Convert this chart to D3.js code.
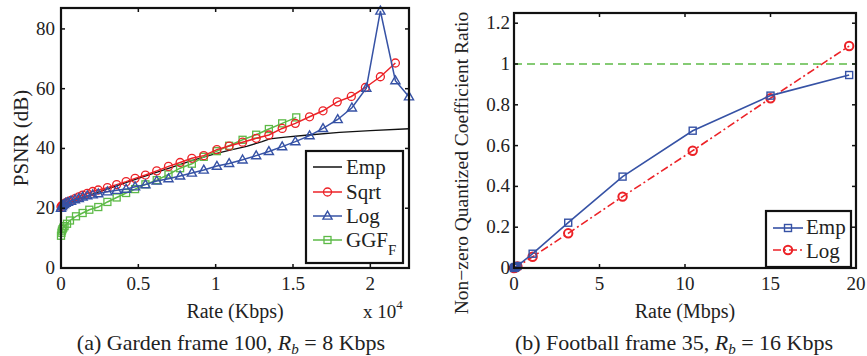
<!DOCTYPE html>
<html>
<head>
<meta charset="utf-8">
<script src="https://cdn.jsdelivr.net/npm/d3@7"></script>
<style>
  body { margin: 0; background: #fff; }
</style>
</head>
<body>
<div id="grafica"></div>
<script>
// ---- panel (a): PSNR vs rate (x 10^4 Kbps) ----
var rateA = [0, 0.005, 0.01, 0.02, 0.03, 0.045, 0.065, 0.09, 0.115, 0.14, 0.17, 0.205, 0.241, 0.300, 0.360, 0.421, 0.479, 0.546, 0.619, 0.695, 0.770, 0.846, 0.923, 1.008, 1.087, 1.174, 1.262, 1.344, 1.430, 1.515, 1.607, 1.694, 1.786, 1.877, 1.968, 2.065, 2.162];
var sqrtA = [20.5, 20.8, 21.0, 21.4, 21.8, 22.2, 22.6, 23.2, 23.8, 24.4, 25.0, 25.6, 26.1, 26.9, 27.9, 28.9, 30.0, 31.1, 32.5, 34.0, 35.3, 36.7, 37.6, 39.6, 40.8, 42.1, 43.4, 44.5, 46.7, 48.4, 50.6, 52.6, 55.6, 57.4, 60.4, 64.0, 68.6];

var rateLog = [0, 0.005, 0.01, 0.02, 0.03, 0.045, 0.065, 0.09, 0.115, 0.14, 0.17, 0.205, 0.241, 0.300, 0.360, 0.421, 0.479, 0.546, 0.619, 0.695, 0.770, 0.846, 0.923, 1.008, 1.087, 1.174, 1.262, 1.344, 1.430, 1.515, 1.607, 1.694, 1.789, 1.881, 1.974, 2.065, 2.162, 2.25];
var logA = [20.0, 20.5, 20.9, 21.3, 21.7, 22.0, 22.4, 22.9, 23.3, 23.8, 24.2, 24.5, 24.9, 25.5, 26.0, 26.4, 27.2, 27.9, 29.1, 29.9, 30.8, 31.8, 32.8, 34.1, 35.0, 36.2, 37.6, 39.0, 40.6, 42.3, 44.3, 46.7, 49.7, 53.6, 60.2, 86.0, 62.7, 57.3];

var rateGGF = [0, 0.003, 0.006, 0.01, 0.015, 0.023, 0.039, 0.058, 0.097, 0.140, 0.183, 0.241, 0.300, 0.360, 0.421, 0.479, 0.546, 0.619, 0.695, 0.770, 0.846, 0.923, 1.008, 1.087, 1.174, 1.262, 1.344, 1.430, 1.521];
var ggfA = [10.8, 11.8, 12.5, 13.0, 13.5, 14.0, 14.8, 15.9, 17.3, 18.4, 19.5, 20.4, 22.1, 23.6, 25.1, 26.4, 28.0, 29.4, 31.3, 33.4, 34.9, 37.2, 39.1, 40.9, 42.9, 44.6, 46.5, 48.4, 50.4];

var rateEmp = [0, 0.1, 0.3, 0.5, 0.7, 0.85, 1.0, 1.1, 1.2, 1.3, 1.35, 1.45, 1.6, 1.8, 2.0, 2.25];
var empA = [20.2, 22.8, 26.5, 30.0, 33.4, 36.0, 38.3, 39.5, 40.7, 42.3, 43.2, 43.8, 44.5, 45.4, 46.0, 46.6];

var xTicksA = [0, 0.5, 1, 1.5, 2];
var yTicksA = [0, 20, 40, 60, 80];

// ---- panel (b): non-zero coefficient ratio vs rate (Mbps) ----
var rateB = [0, 0.05, 0.1, 0.2, 1.09, 3.17, 6.35, 10.45, 15.0, 19.6];
var empB = [0, 0.002, 0.005, 0.01, 0.07, 0.222, 0.448, 0.673, 0.845, 0.946];
var logB = [0, 0.002, 0.004, 0.008, 0.055, 0.17, 0.35, 0.575, 0.832, 1.088];
var refB = 1;

var xTicksB = [0, 5, 10, 15, 20];
var yTicksB = [0, 0.2, 0.4, 0.6, 0.8, 1, 1.2];

var RED = "#ec2227", BLUE = "#3652a5", GREEN = "#5dba47";

var svg = d3.select("#grafica").append("svg")
  .attr("width", 867).attr("height", 356)
  .style("font-family", "'Liberation Serif', 'DejaVu Serif', serif")
  .attr("fill", "#222");

function zip(xs, ys) { return xs.map(function(x, i) { return [x, ys[i]]; }); }

function frame(g, x, y, xt, yt, fmtY, gapY) {
  var x0 = x.range()[0], x1 = x.range()[1], y0 = y.range()[0], y1 = y.range()[1];
  // inward ticks on all four sides
  xt.forEach(function(t) {
    g.append("line").attr("x1", x(t)).attr("x2", x(t)).attr("y1", y0).attr("y2", y0 - 4).attr("stroke", "#111").attr("stroke-width", 1.5);
    g.append("line").attr("x1", x(t)).attr("x2", x(t)).attr("y1", y1).attr("y2", y1 + 4).attr("stroke", "#111").attr("stroke-width", 1.5);
    g.append("text").attr("x", x(t)).attr("y", y0 + 22).attr("text-anchor", "middle").style("font-size", "19px").text(t);
  });
  yt.forEach(function(t) {
    g.append("line").attr("x1", x0).attr("x2", x0 + 4).attr("y1", y(t)).attr("y2", y(t)).attr("stroke", "#111").attr("stroke-width", 1.5);
    g.append("line").attr("x1", x1).attr("x2", x1 - 4).attr("y1", y(t)).attr("y2", y(t)).attr("stroke", "#111").attr("stroke-width", 1.5);
    g.append("text").attr("x", x0 - gapY).attr("y", y(t) + 6).attr("text-anchor", "end").style("font-size", "19px").text(fmtY(t));
  });
  g.append("rect").attr("x", x0).attr("y", y1).attr("width", x1 - x0).attr("height", y0 - y1)
    .attr("fill", "none").attr("stroke", "#111").attr("stroke-width", 2.2);
}

function triangle(s) { return "M0," + (-s) + "L" + (s * 0.95) + "," + (s * 0.65) + "L" + (-s * 0.95) + "," + (s * 0.65) + "Z"; }

// ================= panel (a) =================
var xA = d3.scaleLinear().domain([0, 2.25]).range([61, 409]);
var yA = d3.scaleLinear().domain([0, 87]).range([268, 8]);
var gA = svg.append("g");
var lineA = d3.line().x(function(d) { return xA(d[0]); }).y(function(d) { return yA(d[1]); });

gA.append("path").datum(zip(rateEmp, empA)).attr("d", lineA).attr("fill", "none").attr("stroke", "#111").attr("stroke-width", 1.3);

gA.append("path").datum(zip(rateGGF, ggfA)).attr("d", lineA).attr("fill", "none").attr("stroke", GREEN).attr("stroke-width", 1.5);
gA.selectAll(".sq").data(zip(rateGGF, ggfA)).enter().append("rect")
  .attr("x", function(d) { return xA(d[0]) - 3.5; }).attr("y", function(d) { return yA(d[1]) - 3.5; })
  .attr("width", 7).attr("height", 7).attr("fill", "none").attr("stroke", GREEN).attr("stroke-width", 1.3);

gA.append("path").datum(zip(rateA, sqrtA)).attr("d", lineA).attr("fill", "none").attr("stroke", RED).attr("stroke-width", 1.5);
gA.selectAll(".ci").data(zip(rateA, sqrtA)).enter().append("circle")
  .attr("cx", function(d) { return xA(d[0]); }).attr("cy", function(d) { return yA(d[1]); })
  .attr("r", 4).attr("fill", "none").attr("stroke", RED).attr("stroke-width", 1.3);

gA.append("path").datum(zip(rateLog, logA)).attr("d", lineA).attr("fill", "none").attr("stroke", BLUE).attr("stroke-width", 1.5);
gA.selectAll(".tr").data(zip(rateLog, logA)).enter().append("path")
  .attr("transform", function(d) { return "translate(" + xA(d[0]) + "," + yA(d[1]) + ")"; })
  .attr("d", triangle(4.8)).attr("fill", "none").attr("stroke", BLUE).attr("stroke-width", 1.4);

frame(gA, xA, yA, xTicksA, yTicksA, function(t) { return t; }, 6);

gA.append("text").attr("x", 235).attr("y", 318).attr("text-anchor", "middle").style("font-size", "20px").text("Rate (Kbps)");
var mult = gA.append("text").attr("x", 363).attr("y", 318).style("font-size", "19px");
mult.append("tspan").text("x 10");
mult.append("tspan").attr("dy", -9).style("font-size", "13px").text("4");
gA.append("text").attr("transform", "translate(28,138) rotate(-90)").attr("text-anchor", "middle").style("font-size", "21px").text("PSNR (dB)");

// legend (a)
var legA = gA.append("g");
legA.append("rect").attr("x", 306).attr("y", 151).attr("width", 97).attr("height", 112)
  .attr("fill", "#fff").attr("stroke", "#111").attr("stroke-width", 2.2);
var itemsA = [
  { name: "Emp", color: "#111", mark: "none", y: 167 },
  { name: "Sqrt", color: RED, mark: "circle", y: 192 },
  { name: "Log", color: BLUE, mark: "tri", y: 216 },
  { name: "GGF", sub: "F", color: GREEN, mark: "square", y: 240 }
];
itemsA.forEach(function(it) {
  legA.append("line").attr("x1", 313).attr("x2", 342).attr("y1", it.y).attr("y2", it.y).attr("stroke", it.color).attr("stroke-width", 1.5);
  if (it.mark == "circle") legA.append("circle").attr("cx", 327.5).attr("cy", it.y).attr("r", 4).attr("fill", "none").attr("stroke", it.color).attr("stroke-width", 1.3);
  if (it.mark == "tri") legA.append("path").attr("transform", "translate(327.5," + it.y + ")").attr("d", triangle(4.8)).attr("fill", "none").attr("stroke", it.color).attr("stroke-width", 1.4);
  if (it.mark == "square") legA.append("rect").attr("x", 324).attr("y", it.y - 3.5).attr("width", 7).attr("height", 7).attr("fill", "none").attr("stroke", it.color).attr("stroke-width", 1.3);
  var t = legA.append("text").attr("x", 346).attr("y", it.y + 7).style("font-size", "21px").text(it.name);
  if (it.sub) t.append("tspan").attr("dy", 8).style("font-size", "15px").text(it.sub);
});

// ================= panel (b) =================
var xB = d3.scaleLinear().domain([0, 20]).range([514, 856]);
var yB = d3.scaleLinear().domain([0, 1.25]).range([268, 13]);
var gB = svg.append("g");
var lineB = d3.line().x(function(d) { return xB(d[0]); }).y(function(d) { return yB(d[1]); });

gB.append("line").attr("x1", xB(0)).attr("x2", xB(20)).attr("y1", yB(refB)).attr("y2", yB(refB))
  .attr("stroke", GREEN).attr("stroke-width", 1.6).attr("stroke-dasharray", "8,5");

gB.append("path").datum(zip(rateB, logB)).attr("d", lineB).attr("fill", "none").attr("stroke", RED).attr("stroke-width", 1.6).attr("stroke-dasharray", "8,3,2,3");
gB.selectAll(".ci").data(zip(rateB, logB)).enter().append("circle")
  .attr("cx", function(d) { return xB(d[0]); }).attr("cy", function(d) { return yB(d[1]); })
  .attr("r", 4.2).attr("fill", "none").attr("stroke", RED).attr("stroke-width", 2);

gB.append("path").datum(zip(rateB, empB)).attr("d", lineB).attr("fill", "none").attr("stroke", BLUE).attr("stroke-width", 1.6);
gB.selectAll(".sq").data(zip(rateB, empB)).enter().append("rect")
  .attr("x", function(d) { return xB(d[0]) - 3.5; }).attr("y", function(d) { return yB(d[1]) - 3.5; })
  .attr("width", 7).attr("height", 7).attr("fill", "none").attr("stroke", BLUE).attr("stroke-width", 1.4);

frame(gB, xB, yB, xTicksB, yTicksB, function(t) { return t; }, 4);

gB.append("text").attr("x", 685).attr("y", 318).attr("text-anchor", "middle").style("font-size", "20px").text("Rate (Mbps)");
gB.append("text").attr("transform", "translate(468,163) rotate(-90)").attr("text-anchor", "middle").style("font-size", "19.5px").text("Non\u2212zero Quantized Coefficient Ratio");

var legB = gB.append("g");
legB.append("rect").attr("x", 766).attr("y", 211).attr("width", 85).attr("height", 56)
  .attr("fill", "#fff").attr("stroke", "#111").attr("stroke-width", 2.2);
legB.append("line").attr("x1", 773).attr("x2", 803).attr("y1", 228).attr("y2", 228).attr("stroke", BLUE).attr("stroke-width", 1.6);
legB.append("rect").attr("x", 784.5).attr("y", 224.5).attr("width", 7).attr("height", 7).attr("fill", "none").attr("stroke", BLUE).attr("stroke-width", 1.4);
legB.append("text").attr("x", 806).attr("y", 234).style("font-size", "21px").text("Emp");
legB.append("line").attr("x1", 773).attr("x2", 803).attr("y1", 250).attr("y2", 250).attr("stroke", RED).attr("stroke-width", 1.6).attr("stroke-dasharray", "8,3,2,3");
legB.append("circle").attr("cx", 788).attr("cy", 250).attr("r", 4.2).attr("fill", "none").attr("stroke", RED).attr("stroke-width", 2);
legB.append("text").attr("x", 806).attr("y", 258).style("font-size", "21px").text("Log");

// ---- captions ----
function caption(x, pre, post) {
  var t = svg.append("text").attr("x", x).attr("y", 350).attr("text-anchor", "middle").style("font-size", "22px");
  t.append("tspan").text(pre);
  t.append("tspan").style("font-style", "italic").text("R");
  t.append("tspan").attr("dy", 4).style("font-style", "italic").style("font-size", "15px").text("b");
  t.append("tspan").attr("dy", -4).text(" = " + post);
}
caption(231, "(a)  Garden frame 100, ", "8 Kbps");
caption(674, "(b)  Football frame 35, ", "16 Kbps");
</script>
</body>
</html>
